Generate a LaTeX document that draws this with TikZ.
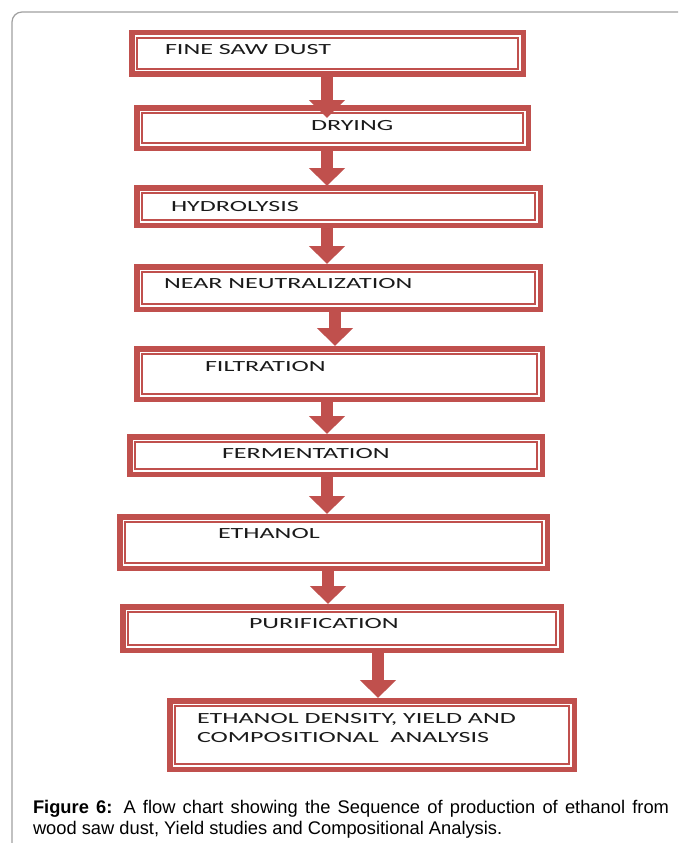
\documentclass[tikz,border=0pt]{standalone}
\usepackage{fontspec}
\usetikzlibrary{arrows.meta}
\setmainfont{Liberation Sans}
\newfontfamily\boxfont[FakeStretch=1.68]{Carlito}
\definecolor{accred}{HTML}{C0504D}
\definecolor{txtdark}{HTML}{1A1A1A}
\definecolor{framegray}{HTML}{A0A0A0}
\tikzset{
  boxnode/.style={rectangle, inner sep=0pt, outer sep=0pt},
  lbl/.style={inner sep=0pt, outer sep=0pt, anchor=base west, text=txtdark, font=\boxfont\fontsize{15.5}{19}\selectfont},
  captext/.style={inner sep=0pt, outer sep=0pt, anchor=base west, text=black, font=\fontsize{18.3}{21}\selectfont},
  outerline/.style={draw=accred, line width=5.5pt},
  innerline/.style={draw=accred, line width=1.3pt},
  flow/.style={draw=accred, line width=12pt, -{Triangle[width=35pt,length=18pt]}},
}
\begin{document}
\begin{tikzpicture}[x=1pt,y=-1pt]
\fill[white] (0,0) rectangle (678,843);
\useasboundingbox (0,0) rectangle (678,843);
\draw[framegray, line width=1.2pt, rounded corners=10pt] (12,843) -- (12,12) -- (678,12);
% boxes: name / x1 / y1 / x2 / y2
\foreach \n/\xa/\ya/\xb/\yb in {
  b1/129/30/526/77,
  b2/134/105/531/151,
  b3/134/185/543/228,
  b4/134/264/543/312,
  b5/134/346/545/402,
  b6/127/434/545/477,
  b7/117/514/550/571,
  b8/120/604/564/653,
  b9/167/698/577/772}{
  \node[boxnode, minimum width={(\xb-\xa)*1pt}, minimum height={(\yb-\ya)*1pt}] (\n) at ({(\xa+\xb)/2},{(\ya+\yb)/2}) {};
  \draw[outerline] ([shift={(2.75,2.75)}]\n.north west) rectangle ([shift={(-2.75,-2.75)}]\n.south east);
  \draw[innerline] ([shift={(8,8)}]\n.north west) rectangle ([shift={(-8,-8)}]\n.south east);
}
% labels
\node[lbl] (t1) at (165,55) {FINE SAW DUST};
\node[lbl] (t2) at (311,130) {DRYING};
\node[lbl] (t3) at (171,211) {HYDROLYSIS};
\node[lbl] (t4) at (164,288) {NEAR NEUTRALIZATION};
\node[lbl] (t5) at (205,371) {FILTRATION};
\node[lbl] (t6) at (222,458) {FERMENTATION};
\node[lbl] (t7) at (218,538) {ETHANOL};
\node[lbl] (t8) at (249,628) {PURIFICATION};
\node[lbl] (t9a) at (197,723) {ETHANOL DENSITY, YIELD AND};
\node[lbl] (t9b) at (197,742) {COMPOSITIONAL\ \ ANALYSIS};
% arrows
\draw[flow] ([xshift=-0.5pt,yshift=5pt]b1.south) -- ([xshift=-5.5pt,yshift=-13pt]b2.north);
\draw[flow] ([xshift=-5.5pt,yshift=2pt]b2.south) -- ([xshift=-11.5pt,yshift=-1pt]b3.north);
\draw[flow] ([xshift=-11.5pt,yshift=2pt]b3.south) -- ([xshift=-11.5pt]b4.north);
\draw[flow] ([xshift=-3.5pt,yshift=2pt]b4.south) -- ([xshift=-4.5pt]b5.north);
\draw[flow] ([xshift=-12.5pt,yshift=2pt]b5.south) -- ([xshift=-9pt]b6.north);
\draw[flow] ([xshift=-9pt,yshift=2pt]b6.south) -- ([xshift=-6.5pt]b7.north);
\draw[flow] ([xshift=-5.5pt,yshift=2pt]b7.south) -- ([xshift=-14pt]b8.north);
\draw[flow] ([xshift=36pt,yshift=2pt]b8.south) -- ([xshift=6pt]b9.north);
% caption
\node[captext] (c1) at (33,813) {\makebox[636pt][s]{\textbf{Figure 6:} A flow chart showing the Sequence of production of ethanol from}};
\node[captext] (c2) at (33,834) {wood saw dust, Yield studies and Compositional Analysis.};
\end{tikzpicture}
\end{document}
